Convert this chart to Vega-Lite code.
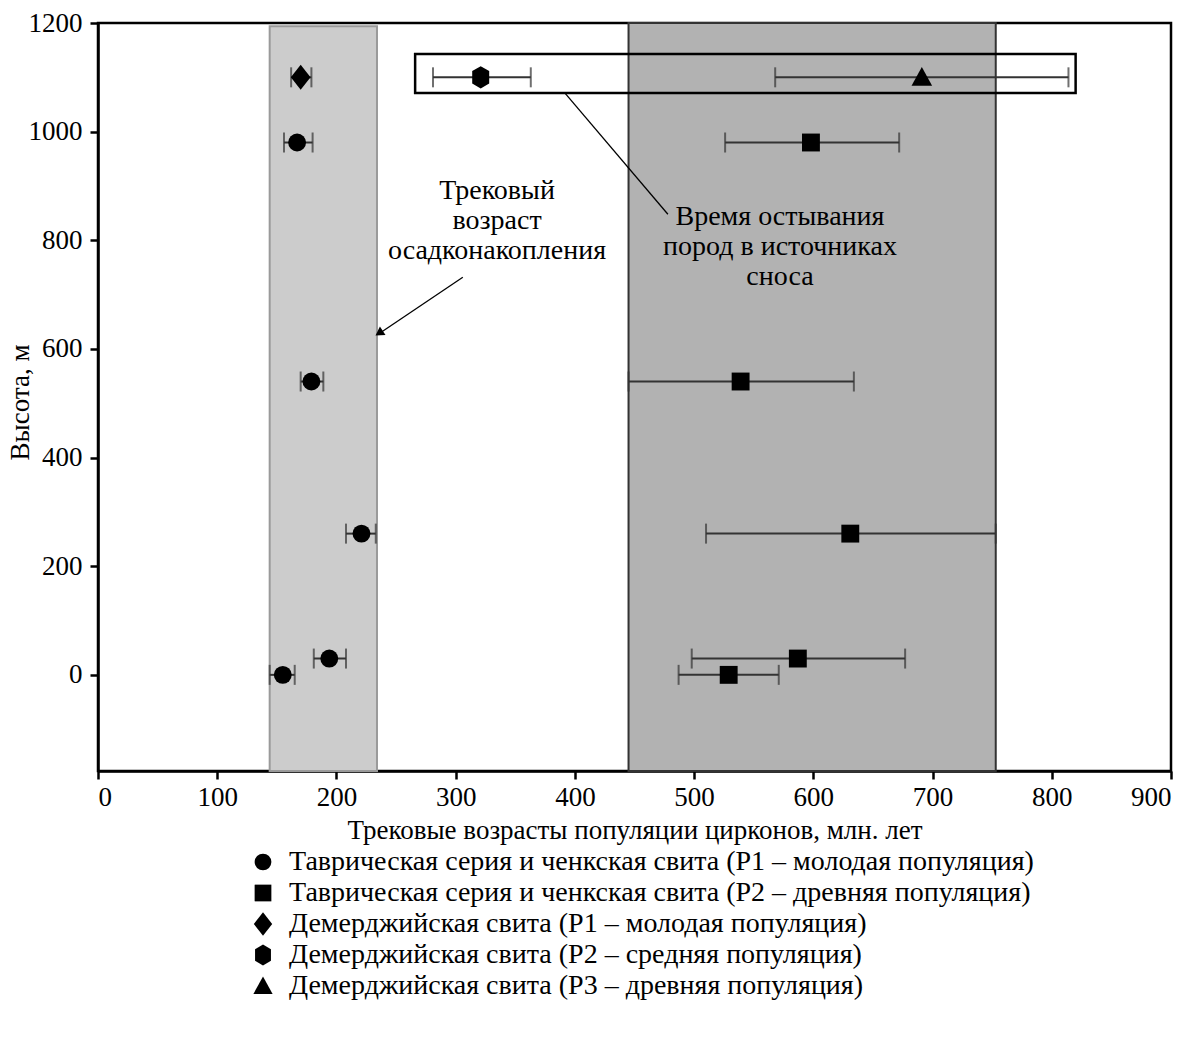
{
  "$schema": "https://vega.github.io/schema/vega-lite/v6.json",
  "width": 1073,
  "height": 748,
  "autosize": {"type": "none"},
  "padding": {"left": 98, "top": 23, "right": 21, "bottom": 270},
  "background": "white",
  "config": {
    "view": {"stroke": "black", "strokeWidth": 2.5},
    "font": "Liberation Serif",
    "axis": {"grid": false, "domainColor": "black", "domainWidth": 2.5, "tickColor": "black", "tickWidth": 2.5, "tickSize": 8, "labelFont": "Liberation Serif", "labelFontSize": 27, "labelColor": "black", "titleFont": "Liberation Serif", "titleFontSize": 27, "titleFontWeight": "normal", "titleColor": "black"},
    "legend": {"labelFont": "Liberation Serif", "labelFontSize": 28, "labelColor": "black", "labelLimit": 0}
  },
  "datasets": {
    "pts": [
      {"series": "Таврическая серия и ченкская свита (P1 – молодая популяция)", "age": 155, "lo": 144, "hi": 165, "h": 0},
      {"series": "Таврическая серия и ченкская свита (P1 – молодая популяция)", "age": 194, "lo": 181, "hi": 208, "h": 30},
      {"series": "Таврическая серия и ченкская свита (P1 – молодая популяция)", "age": 221, "lo": 208, "hi": 233, "h": 260},
      {"series": "Таврическая серия и ченкская свита (P1 – молодая популяция)", "age": 179, "lo": 170, "hi": 189, "h": 540},
      {"series": "Таврическая серия и ченкская свита (P1 – молодая популяция)", "age": 167, "lo": 156, "hi": 180, "h": 980},
      {"series": "Таврическая серия и ченкская свита (P2 – древняя популяция)", "age": 529, "lo": 487, "hi": 571, "h": 0},
      {"series": "Таврическая серия и ченкская свита (P2 – древняя популяция)", "age": 587, "lo": 498, "hi": 677, "h": 30},
      {"series": "Таврическая серия и ченкская свита (P2 – древняя популяция)", "age": 631, "lo": 510, "hi": 753, "h": 260},
      {"series": "Таврическая серия и ченкская свита (P2 – древняя популяция)", "age": 539, "lo": 445, "hi": 634, "h": 540},
      {"series": "Таврическая серия и ченкская свита (P2 – древняя популяция)", "age": 598, "lo": 526, "hi": 672, "h": 980},
      {"series": "Демерджийская свита (P1 – молодая популяция)", "age": 170, "lo": 162, "hi": 179, "h": 1100},
      {"series": "Демерджийская свита (P2 – средняя популяция)", "age": 321, "lo": 281, "hi": 363, "h": 1100},
      {"series": "Демерджийская свита (P3 – древняя популяция)", "age": 691, "lo": 568, "hi": 814, "h": 1100}
    ]
  },
  "layer": [
    {
      "data": {"values": [{"a": 144, "b": 234, "ylo": -177, "yhi": 1194}]},
      "mark": {"type": "rect", "fill": "#cccccc", "stroke": "#9a9a9a", "strokeWidth": 2},
      "encoding": {
        "x": {"field": "a", "type": "quantitative", "scale": {"domain": [0, 900], "nice": false},
          "axis": {"values": [0,100,200,300,400,500,600,700,800,900], "format": "d", "title": "Трековые возрасты популяции цирконов, млн. лет", "labelPadding": 5, "titlePadding": 7}},
        "x2": {"field": "b"},
        "y": {"field": "ylo", "type": "quantitative", "scale": {"domain": [-177, 1200], "nice": false, "zero": false},
          "axis": {"values": [0,200,400,600,800,1000,1200], "format": "d", "title": "Высота, м", "labelPadding": 8, "titleX": -78, "titleY": 379, "titleBaseline": "middle", "titleAlign": "center", "titleAngle": 270}},
        "y2": {"field": "yhi"}
      }
    },
    {
      "data": {"values": [{"a": 445, "b": 753, "ylo": -177, "yhi": 1200}]},
      "mark": {"type": "rect", "fill": "#b2b2b2", "stroke": "#333333", "strokeWidth": 2},
      "encoding": {
        "x": {"field": "a", "type": "quantitative"},
        "x2": {"field": "b"},
        "y": {"field": "ylo", "type": "quantitative"},
        "y2": {"field": "yhi"}
      }
    },
    {
      "data": {"values": [{"a": 266, "b": 820, "ylo": 1071, "yhi": 1143}]},
      "mark": {"type": "rect", "fill": null, "fillOpacity": 0, "stroke": "black", "strokeWidth": 2.5},
      "encoding": {
        "x": {"field": "a", "type": "quantitative"},
        "x2": {"field": "b"},
        "y": {"field": "ylo", "type": "quantitative"},
        "y2": {"field": "yhi"}
      }
    },
    {
      "data": {"values": [{"x1": 391.7, "y1": 1071, "x2": 478, "y2": 848}, {"x1": 306, "y1": 732, "x2": 235, "y2": 627}]},
      "mark": {"type": "rule", "color": "black", "strokeWidth": 1.3},
      "encoding": {
        "x": {"field": "x1", "type": "quantitative"},
        "y": {"field": "y1", "type": "quantitative"},
        "x2": {"field": "x2"},
        "y2": {"field": "y2"}
      }
    },
    {
      "data": {"values": [{"x": 235.8, "y": 629}]},
      "mark": {"type": "point", "shape": "triangle-up", "filled": true, "color": "black", "size": 100, "angle": 236, "opacity": 1},
      "encoding": {
        "x": {"field": "x", "type": "quantitative"},
        "y": {"field": "y", "type": "quantitative"}
      }
    },
    {
      "data": {"name": "pts"},
      "mark": {"type": "rule", "color": "#333333", "strokeWidth": 2},
      "encoding": {
        "x": {"field": "lo", "type": "quantitative"},
        "x2": {"field": "hi"},
        "y": {"field": "h", "type": "quantitative"}
      }
    },
    {
      "data": {"name": "pts"},
      "mark": {"type": "tick", "orient": "vertical", "color": "#333333", "thickness": 2, "size": 20},
      "encoding": {
        "x": {"field": "lo", "type": "quantitative"},
        "y": {"field": "h", "type": "quantitative"}
      }
    },
    {
      "data": {"name": "pts"},
      "mark": {"type": "tick", "orient": "vertical", "color": "#333333", "thickness": 2, "size": 20},
      "encoding": {
        "x": {"field": "hi", "type": "quantitative"},
        "y": {"field": "h", "type": "quantitative"}
      }
    },
    {
      "data": {"name": "pts"},
      "mark": {"type": "point", "filled": true, "color": "black", "opacity": 1, "size": 320},
      "encoding": {
        "x": {"field": "age", "type": "quantitative"},
        "y": {"field": "h", "type": "quantitative"},
        "shape": {"field": "series", "type": "nominal",
          "scale": {
            "domain": ["Таврическая серия и ченкская свита (P1 – молодая популяция)", "Таврическая серия и ченкская свита (P2 – древняя популяция)", "Демерджийская свита (P1 – молодая популяция)", "Демерджийская свита (P2 – средняя популяция)", "Демерджийская свита (P3 – древняя популяция)"],
            "range": ["circle", "square", "M0,-1.4L1.1,0L0,1.4L-1.1,0Z", "M0,-1.25L0.95,-0.7L0.95,0.7L0,1.25L-0.95,0.7L-0.95,-0.7Z", "M0,-1.15L1.15,0.95L-1.15,0.95Z"]
          },
          "legend": {"orient": "none", "legendX": 151, "legendY": 825, "direction": "vertical", "title": null, "symbolSize": 280, "symbolFillColor": "black", "symbolStrokeColor": "black", "symbolStrokeWidth": 0, "symbolOpacity": 1, "rowPadding": 3, "labelOffset": 12}
        }
      }
    },
    {
      "data": {"values": [
        {"x": 334.7, "y": 890, "t": "Трековый"},
        {"x": 334.7, "y": 835, "t": "возраст"},
        {"x": 334.7, "y": 780, "t": "осадконакопления"},
        {"x": 572, "y": 843, "t": "Время остывания"},
        {"x": 572, "y": 787, "t": "пород в источниках"},
        {"x": 572, "y": 733, "t": "сноса"}
      ]},
      "mark": {"type": "text", "font": "Liberation Serif", "fontSize": 28, "color": "black", "align": "center", "baseline": "middle"},
      "encoding": {
        "x": {"field": "x", "type": "quantitative"},
        "y": {"field": "y", "type": "quantitative"},
        "text": {"field": "t"}
      }
    }
  ]
}
